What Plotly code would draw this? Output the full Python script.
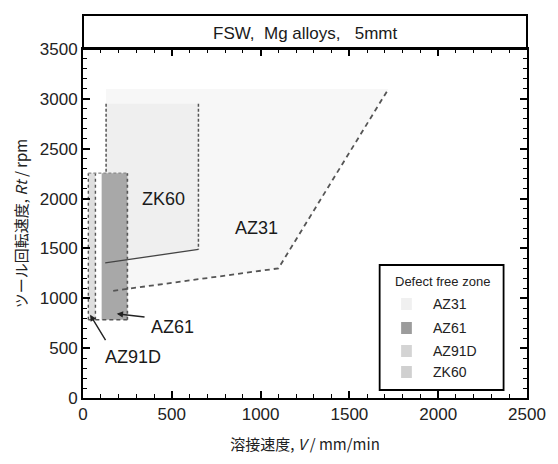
import plotly.graph_objects as go

# ---------------- data ----------------
# AZ31 defect-free zone (filled polygon + dashed lower/right boundary)
az31_fill_v = [130, 170, 1100, 1720, 130]
az31_fill_r = [1075, 1075, 1300, 3100, 3100]
az31_edge_v = [170, 1100, 1720]
az31_edge_r = [1075, 1300, 3100]

# ZK60 zone
zk60_fill_v = [130, 650, 650, 130]
zk60_fill_r = [1355, 1490, 2950, 2950]
zk60_left_v = [130, 130]
zk60_left_r = [2950, 2250]
zk60_right_v = [650, 650]
zk60_right_r = [2950, 1490]
zk60_bottom_v = [125, 650]
zk60_bottom_r = [1355, 1490]

# AZ61 zone (rectangle)
az61_v = [105, 250]
az61_r = [785, 2255]

# AZ91D zone (rectangle)
az91d_v = [30, 70]
az91d_r = [785, 2255]

# label positions (data units)
labels = ["ZK60", "AZ31", "AZ61", "AZ91D"]
label_v = [455, 975, 505, 280]
label_r = [2000, 1700, 715, 415]

# arrows (tail -> head)
arrow_tail_v = [355, 132]
arrow_tail_r = [810, 565]
arrow_head_v = [190, 40]
arrow_head_r = [845, 835]

x_ticks = [0, 500, 1000, 1500, 2000, 2500]
y_ticks = [0, 500, 1000, 1500, 2000, 2500, 3000, 3500]

legend_names = ["AZ31", "AZ61", "AZ91D", "ZK60"]

# ---------------- styles ----------------
C_AZ31 = "#f7f7f7"
C_ZK60 = "#efefef"
C_AZ61 = "#a8a8a8"
C_AZ91D = "#dedede"
LEG_COLORS = ["#f0f0f0", "#9c9c9c", "#d4d4d4", "#d0d0d0"]
DASH_C = "#555555"
FONT = "Liberation Sans, Arial, sans-serif"

fig = go.Figure()


def fill_poly(v, r, color):
    fig.add_trace(go.Scatter(x=v, y=r, fill="toself", fillcolor=color, mode="none",
                             hoverinfo="skip", showlegend=False))


def rect_fill(v, r, color):
    fill_poly([v[0], v[1], v[1], v[0]], [r[0], r[0], r[1], r[1]], color)


def line(v, r, dash="4px,3px", width=1.6, color=DASH_C):
    fig.add_trace(go.Scatter(x=v, y=r, mode="lines",
                             line=dict(color=color, width=width, dash=dash),
                             hoverinfo="skip", showlegend=False))


fill_poly(az31_fill_v, az31_fill_r, C_AZ31)
fill_poly(zk60_fill_v, zk60_fill_r, C_ZK60)
rect_fill(az91d_v, az91d_r, C_AZ91D)
rect_fill(az61_v, az61_r, C_AZ61)

line(az31_edge_v, az31_edge_r, dash="5px,4px", width=1.8)
line(zk60_left_v, zk60_left_r, dash="3px,2px", width=1.5)
line(zk60_right_v, zk60_right_r, dash="3px,2px", width=1.5)
line(zk60_bottom_v, zk60_bottom_r, dash="solid", width=1.3, color="#444444")

# AZ91D borders
line([az91d_v[0], az91d_v[0]], az91d_r, dash="3px,3px", width=1.4)
line([az91d_v[1], az91d_v[1]], az91d_r, dash="3px,3px", width=1.4)
# AZ61 borders
line([az61_v[1], az61_v[1]], az61_r, dash="3px,3px", width=1.6)
line([az91d_v[0], az61_v[1]], [az61_r[0], az61_r[0]], dash="4px,3px", width=1.6)
line([az91d_v[0], az61_v[1]], [az61_r[1], az61_r[1]], dash="3px,2px", width=1.2, color="#888888")

annotations = []
for t, v, r in zip(labels, label_v, label_r):
    annotations.append(dict(x=v, y=r, xref="x", yref="y", text=t, showarrow=False,
                            xanchor="center", yanchor="middle",
                            font=dict(family=FONT, size=18, color="#1a1a1a")))
for tv, tr, hv, hr in zip(arrow_tail_v, arrow_tail_r, arrow_head_v, arrow_head_r):
    annotations.append(dict(x=hv, y=hr, ax=tv, ay=tr, xref="x", yref="y", axref="x", ayref="y",
                            text="", showarrow=True, arrowhead=2, arrowsize=0.9, arrowwidth=1.4,
                            arrowcolor="#222222"))

# header title
annotations.append(dict(x=0.5, y=1 + 16 / 349, xref="paper", yref="paper",
                        xanchor="center", yanchor="middle",
                        text="FSW,\u00a0\u00a0Mg alloys,\u00a0\u00a0\u00a05mmt", showarrow=False,
                        font=dict(family=FONT, size=17, color="#1a1a1a")))


# legend (drawn manually)
def px_x(p):
    return (p - 83) / 455


def px_y(p):
    return (398 - p) / 349


shapes = [
    dict(type="rect", xref="paper", yref="paper", x0=0, x1=1, y0=1, y1=1 + 34 / 349,
         line=dict(color="black", width=2), fillcolor="rgba(0,0,0,0)"),
    dict(type="rect", xref="paper", yref="paper", x0=px_x(387), x1=px_x(514),
         y0=px_y(390), y1=px_y(265), line=dict(color="black", width=1.8), fillcolor="white"),
]
annotations.append(dict(x=px_x(451), y=px_y(281), xref="paper", yref="paper",
                        xanchor="center", yanchor="middle",
                        text="Defect free zone", showarrow=False,
                        font=dict(family=FONT, size=13, color="#222222")))
leg_y = [304, 328, 351, 372]
for name, col, yy in zip(legend_names, LEG_COLORS, leg_y):
    shapes.append(dict(type="rect", xref="paper", yref="paper", x0=px_x(409), x1=px_x(420),
                       y0=px_y(yy + 6), y1=px_y(yy - 6), line=dict(width=0), fillcolor=col))
    annotations.append(dict(x=px_x(440), y=px_y(yy), xref="paper", yref="paper", text=name,
                            showarrow=False, xanchor="left", yanchor="middle",
                            font=dict(family=FONT, size=14, color="#222222")))

axis_common = dict(showline=True, linecolor="black", linewidth=2, mirror="allticks",
                   ticks="inside", ticklen=7, tickwidth=1.5, tickcolor="black",
                   showgrid=False, zeroline=False,
                   tickfont=dict(family=FONT, size=17, color="#222222"))

fig.update_layout(
    width=558, height=464,
    margin=dict(l=83, r=20, t=49, b=66),
    paper_bgcolor="white", plot_bgcolor="white",
    showlegend=False,
    xaxis=dict(range=[0, 2500], tickvals=x_ticks,
               minor=dict(dtick=100, ticks="inside", ticklen=4, tickcolor="black", tickwidth=1),
               title=dict(text="溶接速度, <i>V</i> / mm/min", standoff=16,
                          font=dict(family="Noto Sans CJK JP, " + FONT, size=15, color="#222222")),
               **axis_common),
    yaxis=dict(range=[0, 3500], tickvals=y_ticks,
               minor=dict(dtick=100, ticks="inside", ticklen=4, tickcolor="black", tickwidth=1),
               title=dict(text="ツール回転速度, <i>Rt</i> / rpm", standoff=9,
                          font=dict(family="Noto Sans CJK JP, " + FONT, size=15, color="#222222")),
               **axis_common),
    shapes=shapes,
    annotations=annotations,
)

fig.write_html("out.html")
